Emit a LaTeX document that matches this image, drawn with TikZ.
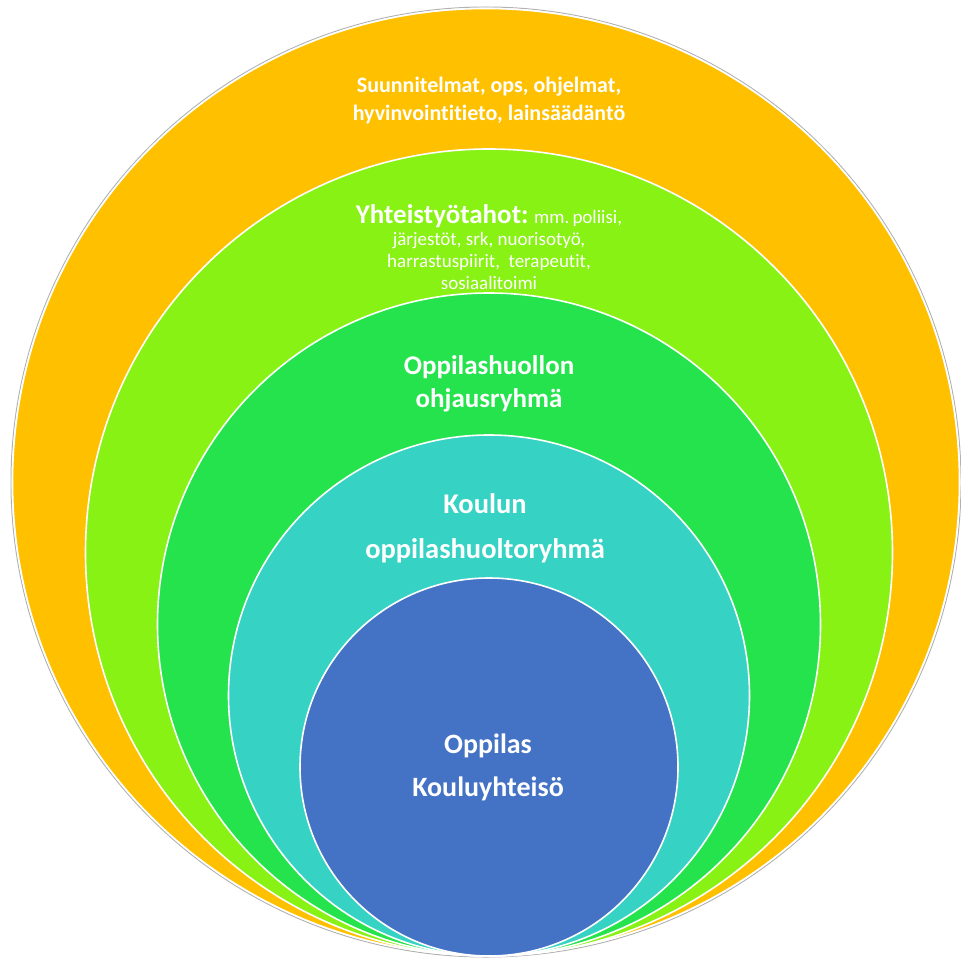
\documentclass[tikz,border=0pt]{standalone}
\usepackage{fontspec}
\setmainfont{Carlito}[Ligatures=NoCommon]
\definecolor{cOrange}{RGB}{255,192,0}
\definecolor{cLime}{RGB}{136,242,20}
\definecolor{cGreen}{RGB}{36,227,76}
\definecolor{cTeal}{RGB}{54,211,196}
\definecolor{cBlue}{RGB}{68,114,196}
\tikzset{
  ring/.style={circle, inner sep=0pt, draw=white, line width=1.6pt},
  lbl/.style={text=white, align=center, inner sep=0pt}
}
\begin{document}
\begin{tikzpicture}[x=1pt,y=-1pt]
\useasboundingbox (0,0) rectangle (961,958);
\node[circle, inner sep=0pt, draw=black!30, line width=1pt, minimum size=950pt] (outerline) at (486,482) {};
\node[ring, fill=cOrange, minimum size=947pt] (outer) at (486,482) {};
\node[ring, fill=cLime, minimum size=807pt] (lime) at (489,552.5) {};
\node[ring, fill=cGreen, minimum size=663pt] (green) at (489,624.5) {};
\node[ring, fill=cTeal, minimum size=521pt] (teal) at (489,695.5) {};
\node[ring, fill=cBlue, minimum size=378pt] (blue) at (489,767) {};

\node[lbl, font=\fontsize{22}{28}\selectfont\bfseries] (t1) at (489,101)
  {Suunnitelmat, ops, ohjelmat,\\hyvinvointitieto, lainsäädäntö};
\node[lbl, font=\fontsize{19}{22}\selectfont] (t2) at (489,247)
  {{\fontsize{27}{22}\selectfont\bfseries Yhteistyötahot:} mm.\,poliisi,\\järjestöt, srk, nuorisotyö,\\harrastuspiirit,\ \ terapeutit,\\sosiaalitoimi};
\node[lbl, font=\fontsize{27}{33}\selectfont\bfseries] (t3) at (489,384)
  {Oppilashuollon\\ohjausryhmä};
\node[lbl, font=\fontsize{28.5}{45}\selectfont\bfseries] (t4) at (485,528)
  {Koulun\\oppilashuoltoryhmä};
\node[lbl, font=\fontsize{28}{43}\selectfont\bfseries] (t5) at (488,767)
  {Oppilas\\Kouluyhteisö};
\end{tikzpicture}
\end{document}
